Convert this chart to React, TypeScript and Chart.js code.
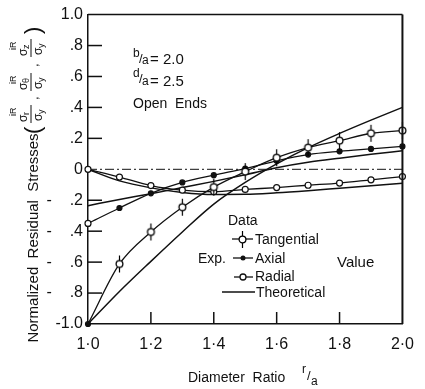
import React, { useEffect, useRef } from "react";
import { Chart, registerables } from "chart.js";

Chart.register(...registerables);

// ---- data ----
const ratios = [1.0, 1.1, 1.2, 1.3, 1.4, 1.5, 1.6, 1.7, 1.8, 1.9, 2.0];
const tangentialExp = [-1.0, -0.612, -0.405, -0.245, -0.115, -0.015, 0.075, 0.14, 0.185, 0.233, 0.25];
const axialExp = [-0.35, -0.25, -0.155, -0.085, -0.038, 0.005, 0.055, 0.095, 0.116, 0.132, 0.148];
const radialExp = [0, -0.05, -0.105, -0.135, -0.145, -0.13, -0.118, -0.103, -0.089, -0.068, -0.047];
const tangentialTheory = [-1.0, -0.79, -0.595, -0.405, -0.225, -0.085, 0.035, 0.14, 0.232, 0.318, 0.4];
const axialTheory = [-0.235, -0.195, -0.158, -0.118, -0.078, -0.035, 0.01, 0.045, 0.072, 0.097, 0.12];
const radialTheory = [0, -0.075, -0.12, -0.15, -0.163, -0.162, -0.152, -0.138, -0.122, -0.106, -0.09];
const zeroLineX = [1.0, 2.0];
const zeroLineY = [0, 0];
const xTickLabels = ["1·0", "1·2", "1·4", "1·6", "1·8", "2·0"];
const yTickLabels = ["-1.0", "-    .8", "-    .6", "-    .4", "-    .2", "0", ".2", ".4", ".6", ".8", "1.0"];
const innerXTicks = [1.2, 1.4, 1.6, 1.8];
const innerYTicks = [-0.8, -0.6, -0.4, -0.2, 0.2, 0.4, 0.6, 0.8];

const FONT = "'Liberation Sans', Arial, sans-serif";
const INK = "#111";

const pts = (xs: number[], ys: number[]) => xs.map((x, i) => ({ x, y: ys[i] }));

function makeTangentialMarker(): HTMLCanvasElement {
  const c = document.createElement("canvas");
  c.width = 13;
  c.height = 19;
  const g = c.getContext("2d")!;
  g.strokeStyle = "#000";
  g.lineWidth = 1.2;
  g.beginPath();
  g.moveTo(6.5, 1);
  g.lineTo(6.5, 6);
  g.moveTo(6.5, 13);
  g.lineTo(6.5, 18);
  g.stroke();
  g.beginPath();
  g.arc(6.5, 9.5, 3.4, 0, Math.PI * 2);
  g.fillStyle = "#fff";
  g.fill();
  g.lineWidth = 1.3;
  g.stroke();
  return c;
}

let tangMarker: HTMLCanvasElement;

const decorPlugin = {
  id: "decor",
  afterDraw(chart: any) {
    const ctx: CanvasRenderingContext2D = chart.ctx;
    const { left, right, top, bottom } = chart.chartArea;
    const xs = chart.scales.x;
    const ys = chart.scales.y;
    ctx.save();
    ctx.strokeStyle = INK;
    ctx.fillStyle = INK;
    // frame top & right
    ctx.lineWidth = 1.5;
    ctx.beginPath();
    ctx.moveTo(left, top);
    ctx.lineTo(right, top);
    ctx.stroke();
    ctx.lineWidth = 2;
    ctx.beginPath();
    ctx.moveTo(right, top);
    ctx.lineTo(right, bottom);
    ctx.stroke();
    // inward ticks
    ctx.lineWidth = 1.5;
    innerYTicks.forEach((v) => {
      const y = ys.getPixelForValue(v);
      ctx.beginPath();
      ctx.moveTo(left, y);
      ctx.lineTo(left + 14, y);
      ctx.stroke();
    });
    innerXTicks.forEach((v) => {
      const x = xs.getPixelForValue(v);
      ctx.beginPath();
      ctx.moveTo(x, bottom);
      ctx.lineTo(x, bottom - 12);
      ctx.stroke();
    });

    const text = (s: string, x: number, y: number, size: number) => {
      ctx.font = `${size}px ${FONT}`;
      ctx.fillText(s, x, y);
    };
    ctx.textBaseline = "alphabetic";
    ctx.textAlign = "left";

    // annotations
    text("b", 133, 57, 12);
    text("/", 139, 63, 13);
    text("a", 142, 64, 12);
    text("= 2.0", 150, 64, 15);
    text("d", 133, 77, 12);
    text("/", 139, 83, 13);
    text("a", 142, 85, 12);
    text("= 2.5", 150, 86, 15);
    text("Open  Ends", 133, 108, 14);

    // legend
    text("Data", 228, 225, 14);
    text("Exp.", 198, 263, 14);
    text("Value", 337, 267, 15);
    ctx.lineWidth = 1.3;
    const legLine = (x1: number, x2: number, y: number) => {
      ctx.beginPath();
      ctx.moveTo(x1, y);
      ctx.lineTo(x2, y);
      ctx.stroke();
    };
    legLine(232, 253, 239);
    ctx.drawImage(tangMarker, 236, 230);
    text("Tangential", 255, 244, 14);
    legLine(233, 253, 258);
    ctx.beginPath();
    ctx.arc(243, 258, 2.5, 0, Math.PI * 2);
    ctx.fill();
    text("Axial", 255, 263, 14);
    legLine(234, 253, 277);
    ctx.beginPath();
    ctx.arc(243, 277, 3, 0, Math.PI * 2);
    ctx.fillStyle = "#fff";
    ctx.fill();
    ctx.fillStyle = INK;
    ctx.stroke();
    text("Radial", 255, 281, 14);
    legLine(222, 255, 292);
    text("Theoretical", 256, 297, 14);

    // x title
    text("Diameter  Ratio", 188, 382, 14);
    text("r", 302, 373, 12);
    text("/", 307, 380, 13);
    text("a", 311, 385, 12);

    // y title (rotated)
    ctx.save();
    ctx.rotate(-Math.PI / 2);
    // local (lx, ly) -> screen (ly, -lx)
    ctx.font = `15px ${FONT}`;
    ctx.textAlign = "center";
    ctx.fillText("Normalized  Residual  Stresses", -238, 38);
    ctx.textAlign = "left";
    ctx.font = `22px ${FONT}`;
    ctx.fillText("(", -134, 40);
    const frac = (u: number, sub: string) => {
      ctx.font = `12px ${FONT}`;
      ctx.fillText("σ", u, 27);
      ctx.font = `9px ${FONT}`;
      ctx.fillText(sub, u + 7, 29);
      ctx.fillText("iR", u + 6, 16);
      ctx.lineWidth = 1;
      ctx.beginPath();
      ctx.moveTo(u - 1, 31);
      ctx.lineTo(u + 17, 31);
      ctx.stroke();
      ctx.font = `12px ${FONT}`;
      ctx.fillText("σ", u + 1, 42);
      ctx.font = `9px ${FONT}`;
      ctx.fillText("y", u + 8, 44);
    };
    frac(-122, "r");
    ctx.font = `13px ${FONT}`;
    ctx.fillText(",", -100, 38);
    frac(-90, "θ");
    ctx.font = `13px ${FONT}`;
    ctx.fillText(",", -67, 38);
    frac(-56, "z");
    ctx.font = `22px ${FONT}`;
    ctx.fillText(")", -34, 40);
    ctx.restore();

    ctx.restore();
  },
};

export default function App() {
  const ref = useRef<HTMLCanvasElement>(null);
  useEffect(() => {
    if (!ref.current) return;
    tangMarker = makeTangentialMarker();
    const expLine = {
      borderColor: INK,
      borderWidth: 1.3,
      cubicInterpolationMode: "monotone" as const,
      pointBorderColor: INK,
      pointBorderWidth: 1.2,
      clip: false as any,
    };
    const theoryLine = {
      borderColor: INK,
      borderWidth: 1.5,
      pointRadius: 0,
      cubicInterpolationMode: "monotone" as const,
      clip: false as any,
    };
    const chart = new Chart(ref.current, {
      type: "line",
      data: {
        datasets: [
          {
            label: "Tangential (exp)",
            data: pts(ratios, tangentialExp),
            ...expLine,
            pointStyle: ratios.map((_, i) => (i === 0 ? "circle" : tangMarker)) as any,
            pointRadius: 2.5,
            pointBackgroundColor: ratios.map((_, i) => (i === 0 ? INK : "#fff")),
          },
          {
            label: "Axial (exp)",
            data: pts(ratios, axialExp),
            ...expLine,
            pointStyle: "circle",
            pointRadius: ratios.map((_, i) => (i === 0 ? 3 : 2.5)),
            pointBackgroundColor: ratios.map((_, i) => (i === 0 ? "#fff" : INK)),
          },
          {
            label: "Radial (exp)",
            data: pts(ratios, radialExp),
            ...expLine,
            pointStyle: "circle",
            pointRadius: 3,
            pointBackgroundColor: "#fff",
          },
          { label: "Tangential (theory)", data: pts(ratios, tangentialTheory), ...theoryLine },
          { label: "Axial (theory)", data: pts(ratios, axialTheory), ...theoryLine },
          { label: "Radial (theory)", data: pts(ratios, radialTheory), ...theoryLine },
          {
            label: "zero",
            data: pts(zeroLineX, zeroLineY),
            borderColor: INK,
            borderWidth: 1,
            borderDash: [9, 3, 2, 3],
            pointRadius: 0,
          },
        ],
      },
      options: {
        animation: false,
        responsive: false,
        devicePixelRatio: 1,
        layout: { padding: { top: 8, right: 19, left: 0, bottom: 0 } },
        plugins: { legend: { display: false }, tooltip: { enabled: false } },
        scales: {
          x: {
            type: "linear",
            min: 1,
            max: 2,
            ticks: {
              stepSize: 0.2,
              autoSkip: false,
              maxRotation: 0,
              padding: 11,
              color: INK,
              font: { size: 16, family: FONT },
              callback: (_v: any, i: number) => xTickLabels[i],
            },
            grid: { display: true, drawOnChartArea: false, drawTicks: false },
            border: { display: true, color: INK, width: 1.5 },
            afterFit: (s: any) => {
              s.height = 65;
            },
          },
          y: {
            min: -1,
            max: 1,
            ticks: {
              stepSize: 0.2,
              autoSkip: false,
              padding: 5,
              color: INK,
              font: { size: 16, family: FONT },
              callback: (_v: any, i: number) => yTickLabels[i],
            },
            grid: { display: true, drawOnChartArea: false, drawTicks: false },
            border: { display: true, color: INK, width: 1.5 },
            afterFit: (s: any) => {
              s.width = 88;
            },
          },
        },
      },
      plugins: [decorPlugin],
    });
    return () => chart.destroy();
  }, []);
  return (
    <div style={{ position: "fixed", left: 0, top: 0, width: 425, height: 389, background: "#fff" }}>
      <canvas ref={ref} width={425} height={389} style={{ display: "block" }} />
    </div>
  );
}
